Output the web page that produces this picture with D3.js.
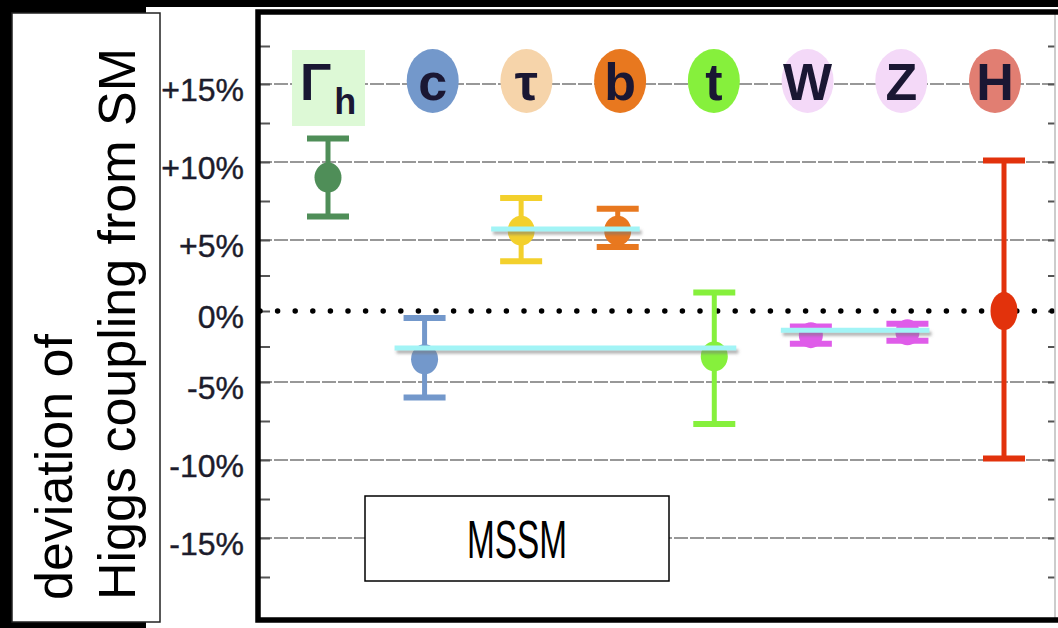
<!DOCTYPE html>
<html>
<head>
<meta charset="utf-8">
<script src="https://cdn.jsdelivr.net/npm/d3@7"></script>
<style>
body { margin: 0; background: #000; }
svg { display: block; }
</style>
</head>
<body>
<div id="chart"></div>
<script>
// particles and their measured deviations (%)
const particles = ["Gh", "c", "tau", "b", "t", "W", "Z", "H"];
const badgeText = ["Γ", "c", "τ", "b", "t", "W", "Z", "H"];
const central = [9.0, -3.4, 5.6, 5.6, -3.2, -1.7, -1.5, 0.0];
const lower = [6.5, -6.0, 3.5, 4.5, -7.7, -2.3, -2.1, -9.9];
const upper = [11.5, -0.5, 7.7, 7.0, 1.3, -1.1, -0.9, 10.1];
const barColors = ["#4f8e58", "#7398cb", "#f3d02c", "#e8781f", "#86f03c", "#df5ce9", "#df5ce9", "#e2320c"];
const badgeColors = ["#ddf9d6", "#7398cb", "#f6d4aa", "#e8781f", "#86f03c", "#f4d9f8", "#f4d9f8", "#e17e72"];

// common MSSM fit bands (cyan)
const fitFrom = ["tau", "c", "W"];
const fitTo = ["b", "t", "Z"];
const fitValue = [5.7, -2.6, -1.35];

const majorTicks = [-15, -10, -5, 0, 5, 10, 15];
const minorTicks = [-17.5, -12.5, -7.5, -2.5, 2.5, 7.5, 12.5, 17.5];
const tickLabels = ["-15%", "-10%", "-5%", "0%", "+5%", "+10%", "+15%"];

const W = 1058, H = 628;
const frame = { left: 258, right: 1055, top: 12, bottom: 620 };

const svg = d3.select("#chart").append("svg")
    .attr("width", W)
    .attr("height", H);

const defs = svg.append("defs");
defs.append("filter").attr("id", "blur")
    .attr("filterUnits", "userSpaceOnUse")
    .attr("x", 0).attr("y", 0).attr("width", W).attr("height", H)
    .append("feGaussianBlur").attr("stdDeviation", 1.6);

svg.append("rect").attr("width", W).attr("height", H).attr("fill", "#000");
svg.append("rect")
    .attr("x", 146).attr("y", 7)
    .attr("width", W - 146).attr("height", H - 7)
    .attr("fill", "#fff");

// y scale (the original figure squeezes the band around zero a little)
const y = d3.scaleLinear()
    .domain([-17.5, -15, -5, 0, 5, 15, 17.5])
    .range([577, 538, 382, 311, 240, 84, 46]);

const x = d3.scalePoint()
    .domain(particles)
    .range([328, 1004]);

const xBadge = d3.scalePoint()
    .domain(particles)
    .range([339, 995]);

// grid lines
svg.append("g")
    .selectAll("line")
    .data(majorTicks.filter(d => d !== 0))
    .enter()
    .append("line")
    .attr("x1", frame.left).attr("x2", frame.right)
    .attr("y1", d => y(d)).attr("y2", d => y(d))
    .attr("stroke", "#777")
    .attr("stroke-width", 1.7)
    .attr("stroke-dasharray", "14,2");

// left / right ticks
const allTicks = majorTicks.concat(minorTicks);
const leftAxis = svg.append("g")
    .attr("transform", "translate(" + frame.left + ",0)")
    .call(d3.axisRight(y).tickValues(allTicks).tickSize(12).tickFormat(""));
const rightAxis = svg.append("g")
    .attr("transform", "translate(" + frame.right + ",0)")
    .call(d3.axisLeft(y).tickValues(allTicks).tickSize(7).tickFormat(""));
[leftAxis, rightAxis].forEach(g => {
    g.select(".domain").remove();
    g.selectAll("line").attr("stroke", "#555").attr("stroke-width", 2);
});

// zero line
svg.append("line")
    .attr("x1", frame.left + 2).attr("x2", frame.right + 10)
    .attr("y1", y(0)).attr("y2", y(0))
    .attr("stroke", "#000")
    .attr("stroke-width", 5.5)
    .attr("stroke-linecap", "round")
    .attr("stroke-dasharray", "0,17.6");

// frame
svg.append("line")
    .attr("x1", frame.right).attr("x2", frame.right)
    .attr("y1", frame.top).attr("y2", frame.bottom)
    .attr("stroke", "#bbb").attr("stroke-width", 1.5);
svg.append("path")
    .attr("d", "M" + (W + 10) + "," + frame.top + "H" + frame.left + "V" + frame.bottom + "H" + (W + 10))
    .attr("fill", "none")
    .attr("stroke", "#000")
    .attr("stroke-width", 5.5);

// tick labels
svg.append("g")
    .selectAll("text")
    .data(majorTicks)
    .enter()
    .append("text")
    .attr("x", 244)
    .attr("y", d => y(d) + 17)
    .attr("text-anchor", "end")
    .attr("font-family", "'Liberation Sans', Arial, sans-serif")
    .attr("font-size", 32)
    .attr("fill", "#1c1c2c")
    .attr("stroke", "#1c1c2c")
    .attr("stroke-width", 0.4)
    .text((d, i) => tickLabels[i]);

// y axis title box
svg.append("rect")
    .attr("x", 12).attr("y", 13)
    .attr("width", 148).attr("height", 609)
    .attr("fill", "#fff")
    .attr("stroke", "#222")
    .attr("stroke-width", 1.5);
const titleLines = ["deviation of", "Higgs coupling from SM"];
svg.append("g")
    .selectAll("text")
    .data(titleLines)
    .enter()
    .append("text")
    .attr("transform", (d, i) => "translate(" + (72 + i * 63) + ",600) rotate(-90)")
    .attr("font-family", "'Liberation Sans', Arial, sans-serif")
    .attr("font-size", 52)
    .attr("fill", "#000")
    .text(d => d);

// error bars
const bars = svg.append("g")
    .selectAll("g")
    .data(particles)
    .enter()
    .append("g")
    .attr("transform", d => "translate(" + x(d) + ",0)");

bars.append("line")
    .attr("y1", (d, i) => y(lower[i]))
    .attr("y2", (d, i) => y(upper[i]))
    .attr("stroke", (d, i) => barColors[i])
    .attr("stroke-width", 5);
bars.selectAll(".cap")
    .data((d, i) => [{ v: lower[i], c: barColors[i] }, { v: upper[i], c: barColors[i] }])
    .enter()
    .append("line")
    .attr("class", "cap")
    .attr("x1", -21).attr("x2", 21)
    .attr("y1", d => y(d.v)).attr("y2", d => y(d.v))
    .attr("stroke", d => d.c)
    .attr("stroke-width", 6);
bars.append("ellipse")
    .attr("cy", (d, i) => y(central[i]))
    .attr("rx", d => d === "W" || d === "Z" ? 12 : 13.5)
    .attr("ry", d => d === "H" ? 19 : (d === "W" || d === "Z" ? 13 : 15))
    .attr("fill", (d, i) => barColors[i]);

// cyan fit bands with a soft shadow underneath
const fits = svg.append("g")
    .selectAll("g")
    .data(fitValue)
    .enter()
    .append("g");
fits.append("line")
    .attr("x1", (d, i) => x(fitFrom[i]) - 28)
    .attr("x2", (d, i) => x(fitTo[i]) + 24)
    .attr("y1", d => y(d) + 3.5).attr("y2", d => y(d) + 3.5)
    .attr("stroke", "#777")
    .attr("stroke-opacity", 0.6)
    .attr("stroke-width", 4)
    .attr("filter", "url(#blur)");
fits.append("line")
    .attr("x1", (d, i) => x(fitFrom[i]) - 30)
    .attr("x2", (d, i) => x(fitTo[i]) + 22)
    .attr("y1", d => y(d)).attr("y2", d => y(d))
    .attr("stroke", "#a2f4f6")
    .attr("stroke-width", 5);

// particle badges
const badgeY = y(15) - 3;
const badges = svg.append("g")
    .selectAll("g")
    .data(particles)
    .enter()
    .append("g")
    .attr("transform", d => "translate(" + (d === "Gh" ? x(d) : xBadge(d)) + "," + badgeY + ")");

badges.filter(d => d === "Gh").append("rect")
    .attr("x", -36).attr("y", -31)
    .attr("width", 73).attr("height", 76)
    .attr("fill", badgeColors[0]);
badges.filter(d => d !== "Gh").append("ellipse")
    .attr("rx", 26).attr("ry", 32)
    .attr("fill", d => badgeColors[particles.indexOf(d)]);

const badgeLabel = badges.append("text")
    .attr("text-anchor", "middle")
    .attr("y", 19)
    .attr("font-family", "'Liberation Sans', Arial, sans-serif")
    .attr("font-weight", "bold")
    .attr("font-size", 52)
    .attr("fill", "#1a1733");
badgeLabel.filter(d => d !== "Gh")
    .text(d => badgeText[particles.indexOf(d)]);
badgeLabel.filter(d => d === "Gh")
    .attr("text-anchor", "start")
    .attr("x", -28)
    .call(t => {
        t.append("tspan").text("Γ");
        t.append("tspan").attr("font-size", 36).attr("dx", 3).attr("dy", 14).text("h");
    });

// MSSM box
svg.append("rect")
    .attr("x", 365).attr("y", 496)
    .attr("width", 304).attr("height", 85)
    .attr("fill", "#fff")
    .attr("stroke", "#000")
    .attr("stroke-width", 1.5);
svg.append("text")
    .attr("x", 517).attr("y", 558)
    .attr("text-anchor", "middle")
    .attr("font-family", "'Liberation Sans Narrow', 'Liberation Sans', Arial, sans-serif")
    .attr("font-size", 54)
    .attr("textLength", 100)
    .attr("lengthAdjust", "spacingAndGlyphs")
    .attr("fill", "#000")
    .text("MSSM");
</script>
</body>
</html>
